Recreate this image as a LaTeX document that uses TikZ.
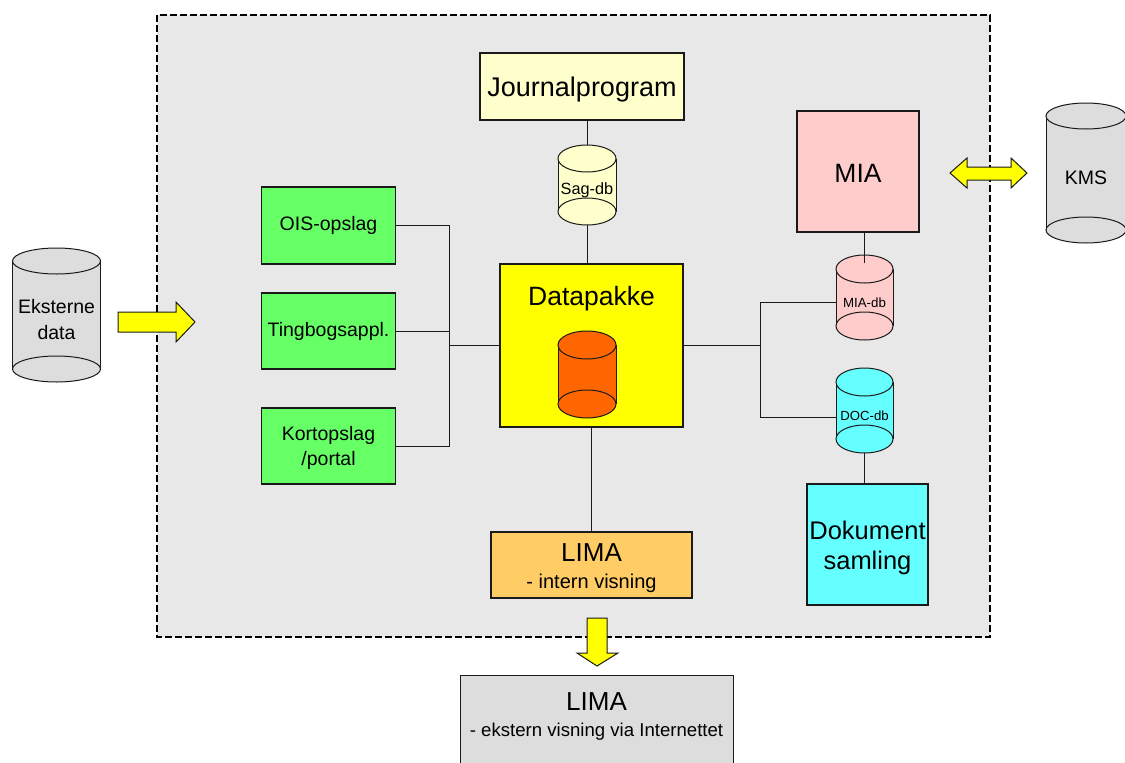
\documentclass[tikz,border=0pt]{standalone}
\usepackage{fontspec}
\setmainfont{Liberation Sans}
\definecolor{bgc}{HTML}{E8E8E8}
\definecolor{ltyel}{HTML}{FFFFCC}
\definecolor{yel}{HTML}{FFFF00}
\definecolor{org}{HTML}{FF6600}
\definecolor{grn}{HTML}{66FF66}
\definecolor{pnk}{HTML}{FFCCCC}
\definecolor{cyn}{HTML}{66FFFF}
\definecolor{limac}{HTML}{FFCC66}
\definecolor{gry}{HTML}{DDDDDD}
\definecolor{ln}{HTML}{1A1A1A}
\newcommand\fs[2]{\fontsize{#1}{#2}\selectfont}
% name, cx, top, bottom, halfwidth, ry, fill, font, text
\newcommand\dbcyl[9]{%
  \fill[#7] ({#2-#5},{#3+#6}) rectangle ({#2+#5},{#4-#6});
  \draw[cylline] ({#2-#5},{#3+#6}) -- ({#2-#5},{#4-#6}) ({#2+#5},{#3+#6}) -- ({#2+#5},{#4-#6});
  \draw[cylline,fill=#7] (#2,{#4-#6}) ellipse [x radius=#5, y radius=#6];
  \draw[cylline,fill=#7] (#2,{#3+#6}) ellipse [x radius=#5, y radius=#6];
  \node[inner sep=0pt, minimum width={2*#5}, minimum height={#4-#3}] (#1) at (#2,{(#3+#4)/2}) {};
  \node[align=center, inner sep=0pt, font=#8] (#1-t) at (#2,{(#3+#4)/2+5}) {#9};
}
\begin{document}
\begin{tikzpicture}[x=1pt,y=-1pt,
  box/.style={draw=ln, line width=1.3pt, inner sep=0pt, align=center},
  txt/.style={inner sep=0pt, align=center},
  cylline/.style={draw=ln, line width=1pt},
  conn/.style={draw=ln, line width=1pt},
  barrow/.style={draw=ln, line width=1pt, fill=yel}]
\useasboundingbox (0,0) rectangle (1125,763);
% region
\draw[dash pattern=on 7pt off 3pt, line width=2pt, fill=bgc] (157,15) rectangle (990,637);

% boxes
\node[box, fill=ltyel, minimum width=204, minimum height=67] (jp) at (582,86.5) {};
\node[txt, font=\fs{27}{30}] (jpt) at (582,90) {Journalprogram};
\node[box, fill=yel, minimum width=183, minimum height=163] (dp) at (591.5,345.5) {};
\node[txt, font=\fs{26.5}{30}] (dpt) at (591.5,299) {Datapakke};
\node[box, fill=grn, minimum width=134, minimum height=77, font=\fs{19.5}{25}] (ois) at (328.5,225.5) {OIS-opslag};
\node[box, fill=grn, minimum width=134, minimum height=76, font=\fs{19.5}{25}] (ting) at (328.5,331) {Tingbogsappl.};
\node[box, fill=grn, minimum width=134, minimum height=76] (kort) at (328.5,446) {};
\node[txt, font=\fs{19.5}{25}] (kortt) at (328.5,448) {Kortopslag\\/portal};
\node[box, fill=pnk, minimum width=122, minimum height=121] (mia) at (858,171.5) {};
\node[txt, font=\fs{26.5}{30}] (miat) at (858,173.5) {MIA};
\node[box, fill=cyn, minimum width=121, minimum height=121] (dok) at (867.5,544.5) {};
\node[txt, font=\fs{25.5}{30}] (dokt) at (867.5,547.5) {Dokument\\samling};
\node[box, fill=limac, minimum width=201, minimum height=66] (lima) at (591.5,565) {};
\node[txt, font=\fs{26}{30}] (limat) at (591.5,553) {LIMA};
\node[txt, font=\fs{20}{24}] (limas) at (591.5,583) {- intern visning};
\node[box, fill=gry, minimum width=273, minimum height=100, anchor=north west] (limax) at (460,675) {};
\node[txt, font=\fs{26}{30}] (limaxt) at (596.5,702) {LIMA};
\node[txt, font=\fs{18.6}{22}] (limaxs) at (596.5,732) {- ekstern visning via Internettet};

% cylinders
\dbcyl{sag}{587}{145}{225}{29}{13.5}{ltyel}{\fs{16.3}{20}}{Sag-db}
\dbcyl{inner}{587}{331}{418}{29}{14}{org}{\fs{10}{12}}{}
\dbcyl{miadb}{864.5}{255}{340}{28.5}{14}{pnk}{\fs{13.3}{16}}{MIA-db}
\dbcyl{docdb}{864.5}{368}{453}{28.5}{14}{cyn}{\fs{13.2}{16}}{DOC-db}
\dbcyl{ext}{56.5}{248}{382}{44}{13}{gry}{\fs{19.5}{26}}{Eksterne\\data}
\dbcyl{kms}{1086}{103}{243}{40}{13}{gry}{\fs{19.5}{24}}{KMS}

% connectors
\draw[conn] (sag.north) -- (sag.north |- jp.south);
\draw[conn] (sag.south) -- (sag.south |- dp.north);
\coordinate (lj) at (449,345.5);
\draw[conn] (ois.east) -| (lj);
\draw[conn] (kort.east) -| (lj);
\draw[conn] (ting.east) -- (ting.east -| lj);
\draw[conn] (lj) -- (dp.west);
\coordinate (rj) at (760,345.5);
\draw[conn] (dp.east) -- (rj);
\draw[conn] (rj) |- ([yshift=-4.5pt]miadb.west);
\draw[conn] (rj) |- ([yshift=-6.5pt]docdb.west);
\coordinate (miain) at (864.5,263);
\draw[conn] (miain) -- (miain |- mia.south);
\draw[conn] (docdb.south) -- (docdb.south |- dok.north);
\draw[conn] (dp.south) -- (lima.north);

% block arrows
\draw[barrow] (118,312) -- (176,312) -- (176,302) -- (195,322) -- (176,342) -- (176,332) -- (118,332) -- cycle;
\draw[barrow] (950,173) -- (967,158) -- (967,167) -- (1011,167) -- (1011,158) -- (1027,173) -- (1011,188) -- (1011,180) -- (967,180) -- (967,188) -- cycle;
\draw[barrow] (587,618) -- (607,618) -- (607,653) -- (618,653) -- (597,666) -- (577,653) -- (587,653) -- cycle;
\end{tikzpicture}
\end{document}
